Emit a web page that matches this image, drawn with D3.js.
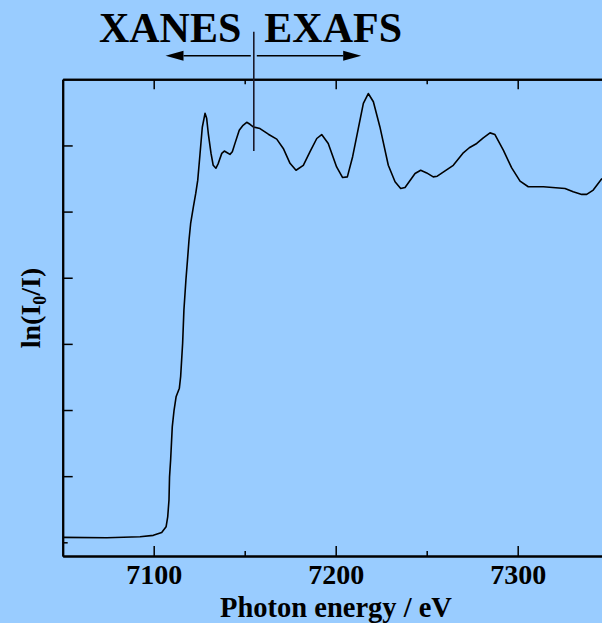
<!DOCTYPE html>
<html>
<head>
<meta charset="utf-8">
<script src="https://cdn.jsdelivr.net/npm/d3@7"></script>
<style>
  html, body { margin: 0; padding: 0; background: #99ccff; overflow: hidden; }
  text { font-family: "Liberation Serif", "Times New Roman", serif; font-weight: bold; fill: #000; }
</style>
</head>
<body>
<script>
// photon energy (eV) and absorbance ln(I0/I)
var energy = [7050.0, 7074.2, 7092.5, 7099.8, 7104.4, 7106.8, 7107.7, 7108.4, 7108.7, 7109.3,
  7110.2, 7111.2, 7112.3, 7114.1, 7114.8, 7115.9, 7116.6, 7117.7, 7118.7, 7119.4,
  7120.3, 7121.8, 7123.1, 7124.2, 7125.4, 7126.7, 7128.2, 7129.1, 7130.0, 7131.5,
  7132.7, 7134.2, 7135.5, 7137.4, 7138.8, 7140.4, 7141.9, 7143.2, 7144.7, 7147.0,
  7149.1, 7151.1, 7152.9, 7154.7, 7158.4, 7163.0, 7167.6, 7171.2, 7174.9, 7178.2,
  7182.2, 7185.9, 7189.6, 7192.3, 7195.9, 7200.5, 7203.8, 7206.4, 7209.3, 7212.4,
  7215.2, 7217.9, 7220.7, 7224.3, 7228.9, 7232.6, 7235.7, 7238.1, 7243.6, 7246.7,
  7250.0, 7253.6, 7255.8, 7260.1, 7264.6, 7269.8, 7273.4, 7277.5, 7281.1, 7284.8,
  7287.5, 7292.1, 7296.7, 7301.3, 7305.8, 7314.1, 7326.0, 7330.5, 7335.2, 7337.9,
  7341.5, 7346.3];
var absorbance = [0.015, 0.014, 0.017, 0.021, 0.030, 0.047, 0.077, 0.128, 0.198, 0.249,
  0.349, 0.400, 0.440, 0.466, 0.501, 0.602, 0.702, 0.793, 0.863, 0.914,
  0.964, 1.014, 1.055, 1.095, 1.171, 1.255, 1.297, 1.282, 1.236, 1.176,
  1.140, 1.131, 1.146, 1.176, 1.183, 1.178, 1.173, 1.181, 1.207, 1.246,
  1.261, 1.270, 1.264, 1.256, 1.251, 1.234, 1.219, 1.191, 1.146, 1.125,
  1.140, 1.181, 1.221, 1.233, 1.206, 1.135, 1.103, 1.105, 1.166, 1.251,
  1.327, 1.357, 1.332, 1.256, 1.140, 1.090, 1.070, 1.073, 1.115, 1.125,
  1.117, 1.105, 1.107, 1.123, 1.140, 1.176, 1.193, 1.206, 1.223, 1.238,
  1.233, 1.186, 1.132, 1.092, 1.075, 1.075, 1.070, 1.060, 1.052, 1.052,
  1.065, 1.100];

var xMajorTicks = [7100, 7200, 7300];
var xMinorTicks = [7150, 7250];
var yMajorTicks = [0.2, 0.4, 0.6, 0.8, 1.0, 1.2];
var yMinorTicks = [0];

// annotation: edge divider and arrow tips (eV)
var dividerEnergy = 7155;
var xanesArrowTip = 7106.5;
var exafsArrowTip = 7214;

var width = 602, height = 623;
var plotLeft = 62.7, plotTop = 79.3, plotBottom = 556;

var svg = d3.select("body").append("svg")
    .attr("width", width)
    .attr("height", height);

var x = d3.scaleLinear().domain([7050, 7400]).range([plotLeft, plotLeft + 1.82 * 350]);
var y = d3.scaleLinear().domain([-0.0414, 1.4]).range([plotBottom, plotTop]);

// axes, ticks pointing inward
function styleAxis(g) {
    g.select(".domain").attr("stroke", "#000").attr("stroke-width", 2);
    g.selectAll(".tick line").attr("stroke", "#000").attr("stroke-width", 1.5);
}

svg.append("g").attr("transform", "translate(0," + plotBottom + ")")
    .call(d3.axisBottom(x).tickValues(xMajorTicks).tickSize(-10).tickSizeOuter(0).tickPadding(8.5).tickFormat(d3.format("d")))
    .call(styleAxis)
    .call(function (g) {
        g.selectAll("text").attr("font-size", 28).attr("font-family", null);
    });
svg.append("g").attr("transform", "translate(0," + plotBottom + ")")
    .call(d3.axisBottom(x).tickValues(xMinorTicks).tickSize(-5).tickSizeOuter(0).tickFormat(""))
    .call(styleAxis);

svg.append("g").attr("transform", "translate(0," + plotTop + ")")
    .call(d3.axisTop(x).tickValues(xMajorTicks).tickSize(-10).tickSizeOuter(0).tickFormat(""))
    .call(styleAxis);
svg.append("g").attr("transform", "translate(0," + plotTop + ")")
    .call(d3.axisTop(x).tickValues(xMinorTicks).tickSize(-5).tickSizeOuter(0).tickFormat(""))
    .call(styleAxis);

svg.append("g").attr("transform", "translate(" + plotLeft + ",0)")
    .call(d3.axisLeft(y).tickValues(yMajorTicks).tickSize(-10).tickSizeOuter(0).tickFormat(""))
    .call(styleAxis);
svg.append("g").attr("transform", "translate(" + plotLeft + ",0)")
    .call(d3.axisLeft(y).tickValues(yMinorTicks).tickSize(-5).tickSizeOuter(0).tickFormat(""))
    .call(styleAxis);

// the spectrum
var points = energy.map(function (e, i) { return [e, absorbance[i]]; });
svg.append("path")
    .datum(points)
    .attr("fill", "none")
    .attr("stroke", "#000")
    .attr("stroke-width", 1.6)
    .attr("stroke-linejoin", "round")
    .attr("d", d3.line()
        .x(function (d) { return x(d[0]); })
        .y(function (d) { return y(d[1]); }));

// axis titles
svg.append("text")
    .attr("x", 336).attr("y", 617)
    .attr("text-anchor", "middle")
    .attr("font-size", 28.5)
    .text("Photon energy / eV");

var ylab = svg.append("text")
    .attr("transform", "translate(40,308) rotate(-90)")
    .attr("text-anchor", "middle")
    .attr("font-size", 28);
ylab.append("tspan").text("ln(I");
ylab.append("tspan").attr("font-size", 18).attr("dy", 6).text("0");
ylab.append("tspan").attr("dy", -6).text("/I)");

// XANES / EXAFS annotation
var xd = x(dividerEnergy);
svg.append("line")
    .attr("x1", xd).attr("x2", xd)
    .attr("y1", 31.7).attr("y2", 151)
    .attr("stroke", "#1a1a2a").attr("stroke-width", 1.6);

var arrowY = 55.7;
svg.append("text").attr("x", xd - 12.5).attr("y", 41.7)
    .attr("text-anchor", "end").attr("font-size", 42).text("XANES");
svg.append("text").attr("x", xd + 10.5).attr("y", 41.7)
    .attr("text-anchor", "start").attr("font-size", 42).text("EXAFS");

[[xanesArrowTip, -1], [exafsArrowTip, 1]].forEach(function (a) {
    var tip = x(a[0]), dir = a[1];
    var base = tip - dir * 18;
    svg.append("line")
        .attr("x1", xd + dir * 3).attr("x2", base)
        .attr("y1", arrowY).attr("y2", arrowY)
        .attr("stroke", "#000").attr("stroke-width", 1.6);
    svg.append("path")
        .attr("d", "M" + tip + "," + arrowY + "L" + base + "," + (arrowY - 5) + "L" + base + "," + (arrowY + 5) + "Z")
        .attr("fill", "#000");
});
</script>
</body>
</html>
